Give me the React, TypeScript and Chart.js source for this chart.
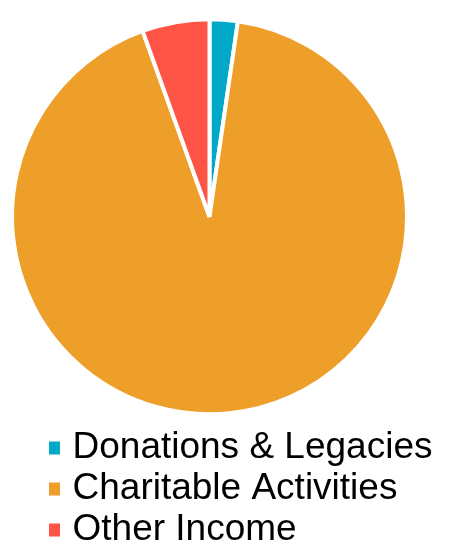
import React, { useEffect, useRef } from "react";
import { Chart, registerables } from "chart.js";

Chart.register(...registerables);

const categories: string[] = ["Donations & Legacies", "Charitable Activities", "Other Income"];
const values: number[] = [2.3, 92.2, 5.5];
const colors: string[] = ["#00A9C7", "#EE9F29", "#FE5446"];

const legendWiden = {
  id: "legendWiden",
  afterLayout(chart: any) {
    const l = chart.legend;
    if (l) {
      l.right = chart.width;
      l.width = l.right - l.left;
    }
  },
};

export default function App() {
  const ref = useRef<HTMLCanvasElement | null>(null);

  useEffect(() => {
    if (!ref.current) return;
    const baseGen = (Chart as any).overrides.pie.plugins.legend.labels.generateLabels;
    const chart = new Chart(ref.current, {
      type: "pie",
      data: {
        labels: categories,
        datasets: [
          {
            data: values,
            backgroundColor: colors,
            borderColor: "#ffffff",
            borderWidth: 4,
            radius: 197.5,
            clip: false as any,
          } as any,
        ],
      },
      options: {
        animation: false,
        responsive: true,
        maintainAspectRatio: false,
        events: [],
        layout: {
          padding: { left: 41, right: 75, top: -10.5, bottom: -15.5 },
        },
        plugins: {
          tooltip: { enabled: false },
          legend: {
            display: true,
            position: "bottom",
            align: "start",
            labels: {
              usePointStyle: true,
              pointStyle: "rect",
              boxWidth: 1,
              boxHeight: 13,
              padding: 4,
              color: "#000000",
              font: { family: "'Liberation Sans', Arial, sans-serif", size: 37 },
              generateLabels: (c: any) =>
                baseGen(c).map((l: any) => ({ ...l, lineWidth: 0, pointStyle: "rect" })),
            },
          },
        },
      },
      plugins: [legendWiden],
    });
    return () => chart.destroy();
  }, []);

  return (
    <div style={{ position: "relative", width: "437px", height: "535px" }}>
      <canvas ref={ref} />
    </div>
  );
}
